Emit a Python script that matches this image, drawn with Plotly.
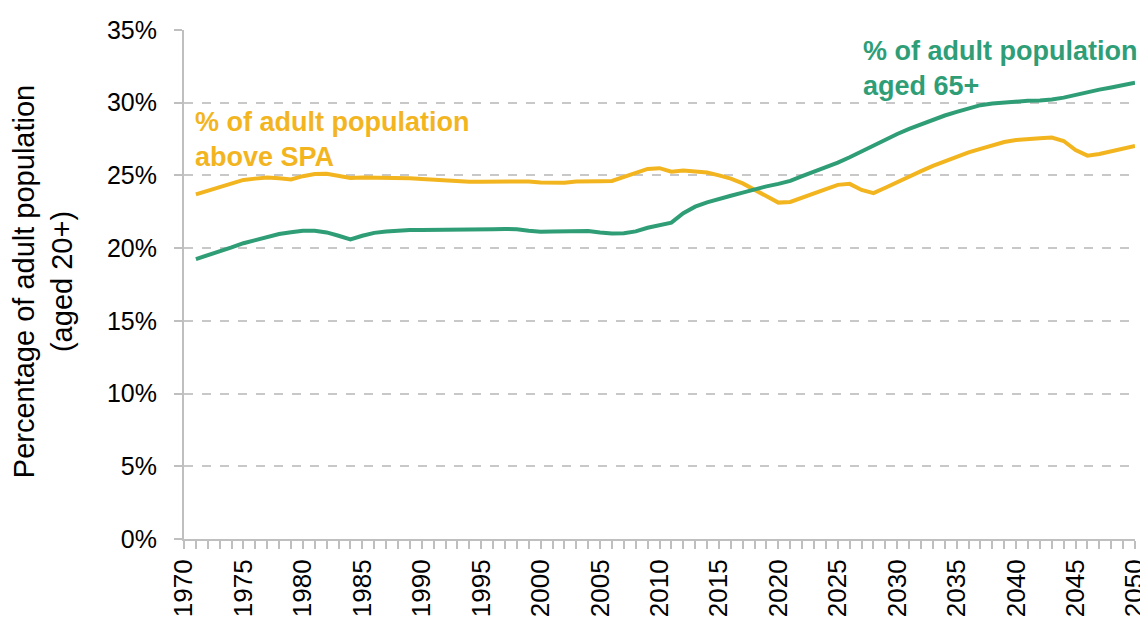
"""Share of the adult population above state pension age vs aged 65+, 1971-2050."""

import plotly.graph_objects as go

YEARS = list(range(1971, 2051))

ABOVE_SPA = [
    23.70, 23.95, 24.20, 24.45, 24.69, 24.78, 24.85, 24.80, 24.72, 24.95,
    25.10, 25.12, 25.00, 24.82, 24.85, 24.85, 24.84, 24.82, 24.80, 24.75,
    24.70, 24.67, 24.62, 24.57, 24.57, 24.57, 24.60, 24.62, 24.58, 24.52,
    24.48, 24.50, 24.58, 24.62, 24.60, 24.62, 24.90, 25.15, 25.45, 25.50,
    25.26, 25.33, 25.28, 25.20, 25.00, 24.78, 24.45, 24.00, 23.60, 23.13,
    23.18, 23.45, 23.78, 24.05, 24.35, 24.42, 24.00, 23.78, 24.15, 24.55,
    24.95, 25.30, 25.65, 25.98, 26.30, 26.58, 26.83, 27.10, 27.30, 27.43,
    27.52, 27.56, 27.60, 27.37, 26.75, 26.36, 26.48, 26.65, 26.85, 27.03,
]

AGED_65_PLUS = [
    19.25, 19.50, 19.78, 20.05, 20.34, 20.55, 20.75, 20.97, 21.10, 21.20,
    21.20, 21.08, 20.85, 20.60, 20.85, 21.05, 21.15, 21.22, 21.25, 21.25,
    21.25, 21.25, 21.25, 21.25, 21.27, 21.30, 21.32, 21.30, 21.20, 21.13,
    21.15, 21.15, 21.17, 21.18, 21.08, 21.00, 21.02, 21.15, 21.40, 21.60,
    21.75, 22.40, 22.85, 23.15, 23.40, 23.60, 23.82, 24.05, 24.25, 24.42,
    24.62, 24.95, 25.25, 25.55, 25.88, 26.25, 26.65, 27.08, 27.48, 27.85,
    28.20, 28.52, 28.82, 29.12, 29.37, 29.62, 29.83, 29.95, 30.02, 30.08,
    30.13, 30.16, 30.22, 30.35, 30.55, 30.73, 30.90, 31.05, 31.18, 31.38,
]

YELLOW = "#F2B51F"
GREEN = "#2F9E77"
AXIS_GREY = "#BFBFBF"
FONT = "Liberation Sans, Arial, sans-serif"

fig = go.Figure()
fig.add_trace(go.Scatter(x=YEARS, y=ABOVE_SPA, mode="lines",
                         line=dict(color=YELLOW, width=4), name="above SPA"))
fig.add_trace(go.Scatter(x=YEARS, y=AGED_65_PLUS, mode="lines",
                         line=dict(color=GREEN, width=4), name="aged 65+"))

# series labels sit inside the plot, as in the source chart
fig.add_annotation(x=1970.76, y=27.45, xref="x", yref="y", xanchor="left", yanchor="middle",
                   text="<b>% of adult population<br>above SPA</b>", showarrow=False, align="left",
                   font=dict(family=FONT, size=27, color=YELLOW))
fig.add_annotation(x=2026.94, y=32.36, xref="x", yref="y", xanchor="left", yanchor="middle",
                   text="<b>% of adult population<br>aged 65+</b>", showarrow=False, align="left",
                   font=dict(family=FONT, size=27, color=GREEN))

# y-axis title drawn as a rotated annotation so its position is fixed
fig.add_annotation(x=-0.148, y=0.505, xref="paper", yref="paper", textangle=-90,
                   xanchor="center", yanchor="middle", showarrow=False,
                   text="Percentage of adult population<br>(aged 20+)",
                   font=dict(family=FONT, size=29, color="#000000"))

# the page body adds an 8px offset, so the figure is 8px smaller than the window
fig.update_layout(
    width=1140, height=613,
    margin=dict(l=176, r=13, t=22, b=82),
    paper_bgcolor="white", plot_bgcolor="white",
    showlegend=False,
    font=dict(family=FONT, size=22, color="#000000"),
)
fig.update_xaxes(
    range=[1970, 2050], tickmode="linear", tick0=1970, dtick=5, tickangle=-90,
    ticks="outside", ticklen=8, tickcolor=AXIS_GREY, tickwidth=1.5,
    minor=dict(dtick=1, ticks="outside", ticklen=8, tickcolor=AXIS_GREY, showgrid=False),
    showline=True, linecolor=AXIS_GREY, linewidth=2, showgrid=False, zeroline=False,
    tickfont=dict(family=FONT, size=26), automargin=False, ticklabeloverflow="allow",
)
fig.update_yaxes(
    range=[0, 35], dtick=5, ticksuffix="%",
    ticks="outside", ticklen=8, tickcolor=AXIS_GREY, tickwidth=1.5, ticklabelstandoff=12,
    showline=True, linecolor=AXIS_GREY, linewidth=2,
    showgrid=True, gridcolor="#C8C8C8", griddash="dash", gridwidth=1.5, zeroline=False,
    tickfont=dict(family=FONT, size=25), automargin=False,
)

fig.write_html("out.html")
